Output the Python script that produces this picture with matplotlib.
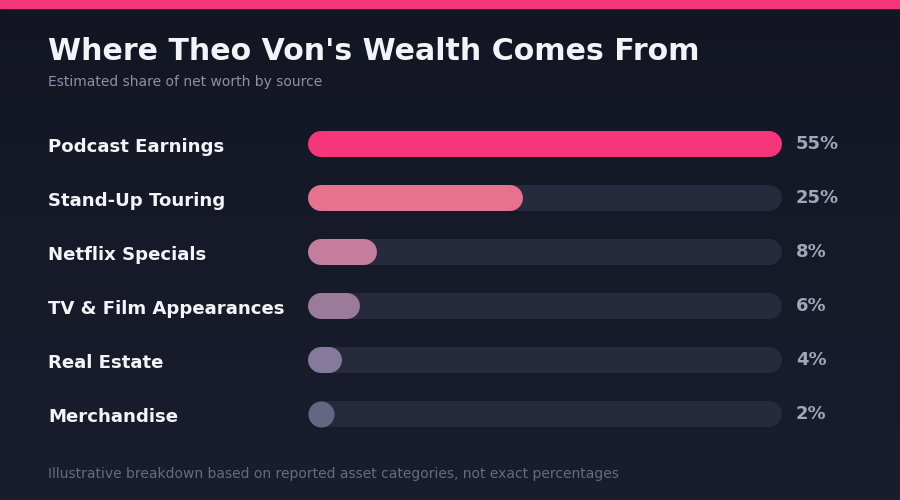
import numpy as np
import matplotlib
matplotlib.use("Agg")
import matplotlib.pyplot as plt
import matplotlib.transforms as mtransforms

# data
sources = ["Podcast Earnings", "Stand-Up Touring", "Netflix Specials",
           "TV & Film Appearances", "Real Estate", "Merchandise"]
shares = [55, 25, 8, 6, 4, 2]
bar_colors = ["#f5367a", "#e8718f", "#c47d9c", "#9c7a9c", "#857a9b", "#646781"]

W, H = 900, 500
fig = plt.figure(figsize=(W / 100, H / 100), dpi=100)

# background gradient + top stripe
bg = fig.add_axes([0, 0, 1, 1])
bg.set_axis_off()
top = np.array([0x13, 0x16, 0x22]) / 255
bot = np.array([0x1a, 0x1d, 0x2e]) / 255
t = np.linspace(0, 1, 256)[:, None]
grad = top[None, :] * (1 - t) + bot[None, :] * t
bg.imshow(grad[:, None, :], aspect="auto", extent=[0, 1, 0, 1], origin="upper")
bg.axhspan(1 - 8 / H, 1, color="#f5367a")
bg.set_xlim(0, 1)
bg.set_ylim(0, 1)

fig.text(48 / W, 1 - 52 / H, "Where Theo Von's Wealth Comes From", color="#f3f4f8",
         fontsize=21.6, fontweight="bold", va="center", ha="left")
fig.text(48 / W, 1 - 82 / H, "Estimated share of net worth by source", color="#8d8fa8",
         fontsize=10, va="center", ha="left")
fig.text(48 / W, 1 - 474 / H,
         "Illustrative breakdown based on reported asset categories, not exact percentages",
         color="#676a82", fontsize=10, va="center", ha="left")

# bars
x0, x1 = 308, 782
ytop, ybot = 117, 441
ax = fig.add_axes([x0 / W, 1 - ybot / H, (x1 - x0) / W, (ybot - ytop) / H])
ax.set_axis_off()
xmax = max(shares)
ax.set_xlim(0, xmax)
ax.set_ylim(len(sources) - 0.5, -0.5)

bar_px = 26
lw = bar_px * 72 / 100
r = (bar_px / 2) / (x1 - x0) * xmax

lab_tr = mtransforms.blended_transform_factory(fig.transFigure, ax.transData)
for i, (name, v, c) in enumerate(zip(sources, shares, bar_colors)):
    ax.plot([r, xmax - r], [i, i], color="#262a3c", lw=lw, solid_capstyle="round")
    if v - r > r:
        ax.plot([r, v - r], [i, i], color=c, lw=lw, solid_capstyle="round")
    else:
        # too short for a pill: just the round end
        ax.plot([r], [i], "o", color=c, markersize=lw, markeredgewidth=0)
    ax.text(48 / W, i + 0.05, name, transform=lab_tr, color="#f3f4f8",
            fontsize=13.1, fontweight="bold", va="center", ha="left")
    ax.annotate(f"{v}%", xy=(xmax, i), xytext=(14, 0), textcoords="offset pixels",
                color="#a3a5ba", fontsize=13, fontweight="bold", va="center", ha="left")

fig.savefig("out.png", dpi=100)
